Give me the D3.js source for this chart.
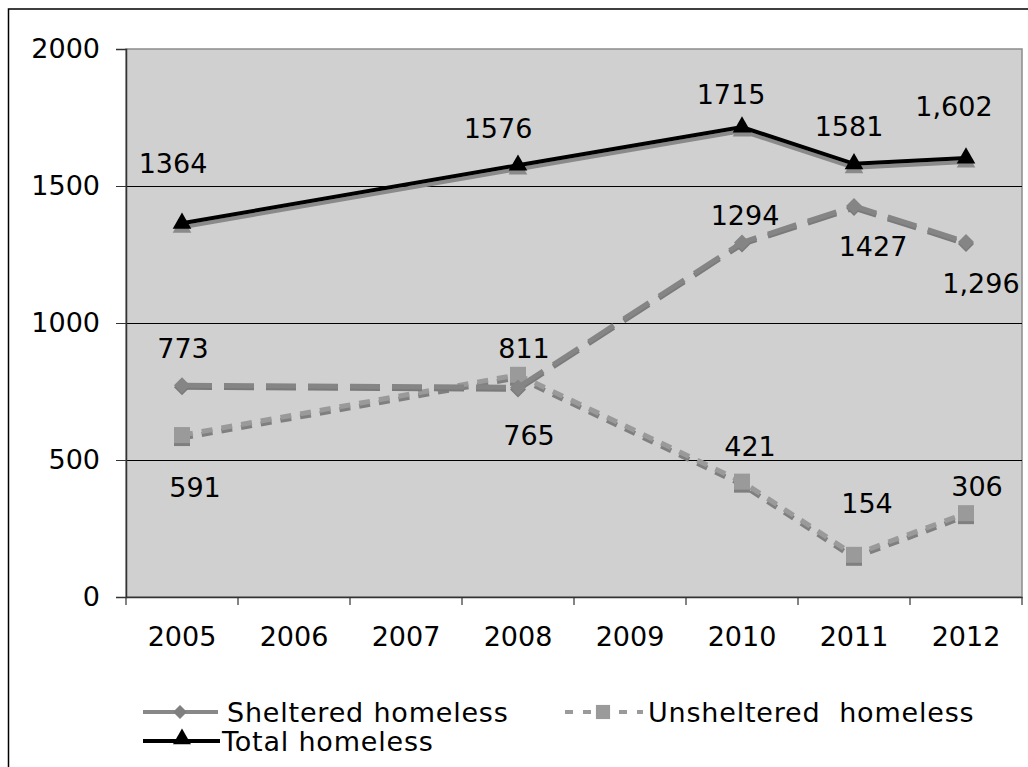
<!DOCTYPE html>
<html>
<head>
<meta charset="utf-8">
<script src="https://cdn.jsdelivr.net/npm/d3@7"></script>
<style>
  html, body { margin: 0; padding: 0; background: #ffffff; }
  svg { display: block; }
  text { font-family: "DejaVu Sans", Verdana, sans-serif; fill: #000; }
</style>
</head>
<body>
<svg id="chart" width="1028" height="767"></svg>
<script>
// ---- data ----
const years = ["2005", "2006", "2007", "2008", "2009", "2010", "2011", "2012"];
const sheltered   = [773, null, null, 765, null, 1294, 1427, 1296];
const unsheltered = [591, null, null, 811, null, 421, 154, 306];
const total       = [1364, null, null, 1576, null, 1715, 1581, 1602];
const shelteredLabels   = ["773", "", "", "765", "", "1294", "1427", "1,296"];
const unshelteredLabels = ["591", "", "", "811", "", "421", "154", "306"];
const totalLabels       = ["1364", "", "", "1576", "", "1715", "1581", "1,602"];
const yTicks = [0, 500, 1000, 1500, 2000];
const seriesNames = ["Sheltered homeless", "Unsheltered  homeless", "Total homeless"];

// label placement offsets (layout, not data)
const shelteredLabelOffsets   = [[1,-37],null,null,[11,48],null,[3,-27],[19,40],[15,42]];
const unshelteredLabelOffsets = [[13,52],null,null,[6,-26],null,[8,-35],[13,-51],[11,-27]];
const totalLabelOffsets       = [[-9,-60],null,null,[-20,-37],null,[-11,-33],[-5,-37],[-12,-52]];

(function () {
const svg = d3.select("#chart");
const pLeft = 126, pRight = 1022, pTop = 49, pBottom = 597;
const FS = 27;
const FONT = '"DejaVu Sans", Verdana, sans-serif';

const x = d3.scaleBand().domain(years).range([pLeft, pRight]).padding(0);
const y = d3.scaleLinear().domain([0, 2000]).range([pBottom, pTop]);
const cx = d => x(d) + x.bandwidth() / 2;

// outer border
svg.append("rect").attr("x", 8.5).attr("y", 9).attr("width", 1100).attr("height", 800)
  .attr("fill", "#fff").attr("stroke", "#000").attr("stroke-width", 1.5);

// plot background
svg.append("rect").attr("x", pLeft).attr("y", pTop).attr("width", pRight - pLeft).attr("height", pBottom - pTop)
  .attr("fill", "#d0d0d0").attr("stroke", "#8c8c8c").attr("stroke-width", 1.5);

// gridlines
svg.append("g").selectAll("line").data(yTicks.filter(t => t > 0 && t < 2000)).join("line")
  .attr("x1", pLeft).attr("x2", pRight).attr("y1", d => y(d) + 0.5).attr("y2", d => y(d) + 0.5)
  .attr("stroke", "#000").attr("stroke-width", 1);

// y axis
const yAxis = d3.axisLeft(y).tickValues(yTicks).tickSize(10).tickPadding(16).tickFormat(d3.format("d"));
const gy = svg.append("g").attr("transform", `translate(${pLeft},0)`).call(yAxis);
gy.select(".domain").attr("stroke", "#333").attr("stroke-width", 1.5);
gy.selectAll(".tick line").attr("stroke", "#333");
gy.selectAll(".tick text").style("font-size", FS + "px").style("font-family", FONT).attr("fill", "#000");

// x axis
const xAxis = d3.axisBottom(x).tickSize(0).tickPadding(30);
const gx = svg.append("g").attr("transform", `translate(0,${pBottom})`).call(xAxis);
gx.select(".domain").attr("stroke", "#333").attr("stroke-width", 1.5);
gx.selectAll(".tick text").style("font-size", FS + "px").style("font-family", FONT).attr("fill", "#000");
const boundaries = years.map(d => x(d)).concat([pRight]);
svg.append("g").selectAll("line").data(boundaries).join("line")
  .attr("x1", d => d).attr("x2", d => d).attr("y1", pBottom).attr("y2", pBottom + 8)
  .attr("stroke", "#333").attr("stroke-width", 1.2);

// ---- series ----
function pts(values) {
  return years.map((yr, i) => ({ yr, v: values[i], i })).filter(d => d.v !== null);
}
const line = d3.line().x(d => cx(d.yr)).y(d => y(d.v));

const diamondPath = s => `M0,${-s}L${s},0L0,${s}L${-s},0Z`;
const diamond = diamondPath(8);
const square = d3.symbol().type(d3.symbolSquare).size(256)();
const triangle = d3.symbol().type(d3.symbolTriangle).size(150)();

function drawSeries(values, opts) {
  const data = pts(values);
  const g = svg.append("g");
  const sh = g.append("g").attr("transform", `translate(${opts.shx},${opts.shy})`);
  sh.append("path").datum(data).attr("d", line).attr("fill", "none")
    .attr("stroke", opts.shadow).attr("stroke-width", opts.width)
    .attr("stroke-dasharray", opts.dash || null);
  sh.selectAll("path.m").data(data).join("path").attr("class", "m")
    .attr("transform", d => `translate(${cx(d.yr)},${y(d.v)})`)
    .attr("d", opts.symbol).attr("fill", opts.shadow);
  g.append("path").datum(data).attr("d", line).attr("fill", "none")
    .attr("stroke", opts.color).attr("stroke-width", opts.width)
    .attr("stroke-dasharray", opts.dash || null);
  g.selectAll("path.mk").data(data).join("path").attr("class", "mk")
    .attr("transform", d => `translate(${cx(d.yr)},${y(d.v)})`)
    .attr("d", opts.symbol).attr("fill", opts.markerColor || opts.color);
}

drawSeries(unsheltered, { color: "#9a9a9a", shadow: "#7f7f7f", width: 5, dash: "11,9", symbol: square, shx: 0, shy: 3 });
drawSeries(sheltered, { color: "#858585", shadow: "#7a7a7a", width: 5, dash: "30,12", symbol: diamond, shx: 0, shy: 2 });
drawSeries(total, { color: "#000", shadow: "#8a8a8a", width: 4, symbol: triangle, shx: 0, shy: 4 });

// ---- data labels ----
function drawLabels(values, labels, offsets) {
  const data = pts(values);
  svg.append("g").selectAll("text").data(data).join("text")
    .attr("x", d => cx(d.yr) + offsets[d.i][0])
    .attr("y", d => y(d.v) + offsets[d.i][1])
    .attr("text-anchor", "middle").attr("dominant-baseline", "central")
    .style("font-size", FS + "px")
    .text(d => labels[d.i]);
}
drawLabels(total, totalLabels, totalLabelOffsets);
drawLabels(sheltered, shelteredLabels, shelteredLabelOffsets);
drawLabels(unsheltered, unshelteredLabels, unshelteredLabelOffsets);

// ---- legend ----
const lg = svg.append("g");
const LS = "0.8px";
lg.append("line").attr("x1", 143).attr("x2", 218).attr("y1", 712).attr("y2", 712)
  .attr("stroke", "#888").attr("stroke-width", 4);
lg.append("path").attr("transform", "translate(180,712)").attr("d", diamondPath(7)).attr("fill", "#808080");
lg.append("text").attr("x", 227).attr("y", 712).attr("dominant-baseline", "central")
  .style("font-size", FS + "px").style("letter-spacing", LS).text(seriesNames[0]);
lg.append("line").attr("x1", 565).attr("x2", 643).attr("y1", 712).attr("y2", 712)
  .attr("stroke", "#9a9a9a").attr("stroke-width", 4).attr("stroke-dasharray", "8,10");
lg.append("path").attr("transform", "translate(603,712)").attr("d", d3.symbol().type(d3.symbolSquare).size(200)).attr("fill", "#9a9a9a");
lg.append("text").attr("x", 648).attr("y", 712).attr("dominant-baseline", "central")
  .style("font-size", FS + "px").style("letter-spacing", LS).style("white-space", "pre").text(seriesNames[1]);
lg.append("line").attr("x1", 143).attr("x2", 220).attr("y1", 741).attr("y2", 741)
  .attr("stroke", "#000").attr("stroke-width", 4);
lg.append("path").attr("transform", "translate(182,739)").attr("d", d3.symbol().type(d3.symbolTriangle).size(140)).attr("fill", "#000");
lg.append("text").attr("x", 222).attr("y", 741).attr("dominant-baseline", "central")
  .style("font-size", FS + "px").style("letter-spacing", LS).text(seriesNames[2]);
})();
</script>
</body>
</html>
